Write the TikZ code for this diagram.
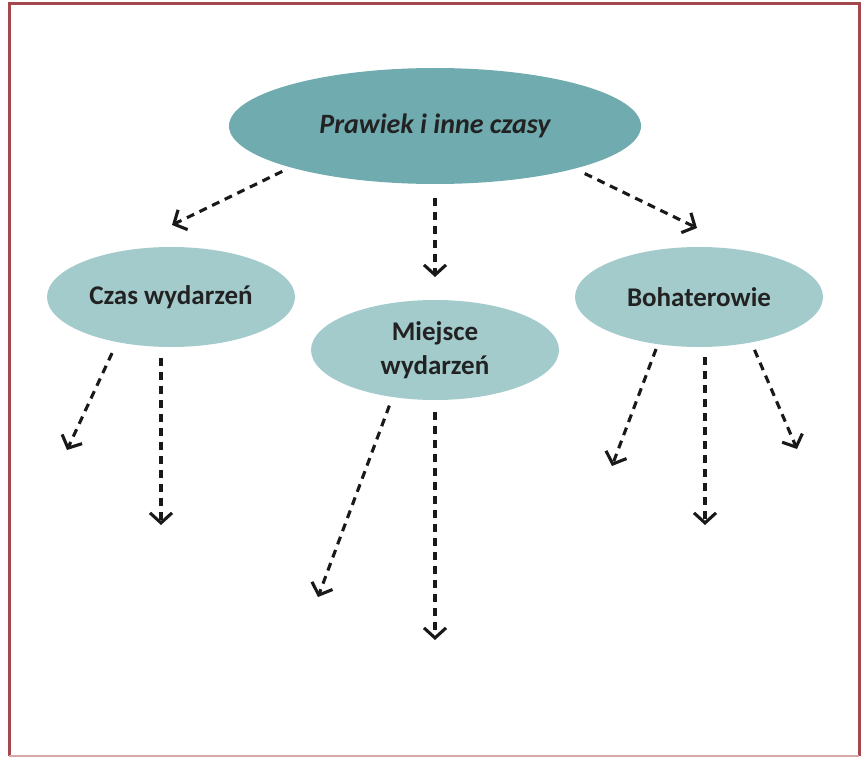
\documentclass[tikz,border=0pt]{standalone}
\usepackage{fontspec}
\setmainfont{Carlito}
\usepackage{xcolor}
\usepackage{tikz}
\usetikzlibrary{shapes.geometric, arrows.meta}
\definecolor{framedark}{HTML}{A4484E}
\definecolor{framelight}{HTML}{D9A7AA}
\definecolor{tealdark}{HTML}{70ACAF}
\definecolor{teallight}{HTML}{A3CBCC}
\definecolor{txt}{HTML}{222222}
\tikzstyle{topic} = [ellipse, minimum width=412pt, minimum height=116pt, inner sep=0pt, fill=tealdark, text=txt, font=\fontsize{28}{32}\selectfont\bfseries\itshape]
\tikzstyle{sub} = [ellipse, minimum width=248pt, minimum height=100pt, inner sep=0pt, fill=teallight, text=txt, align=center, font=\fontsize{27}{34}\selectfont\bfseries]
\tikzstyle{arrow} = [draw=black!90, line width=3.1pt, dash pattern=on 8pt off 6pt, -{Straight Barb[length=10pt,width=22pt]}]

\begin{document}
\begin{tikzpicture}[x=1pt, y=-1pt]

	\useasboundingbox (0,0) rectangle (865,757);
	\draw [framedark, line width=3pt] (9,756) -- (9,4) -- (859,4) -- (859,756);
	\draw [framelight, line width=1.5pt] (9,756) -- (859,756);

	\node (main) [topic] at (435,126) {Prawiek i inne czasy};
	\node (czas) [sub] at (171,297) {Czas wydarzeń};
	\node (miejsce) [sub] at (435,350) {Miejsce\\wydarzeń};
	\node (boh) [sub] at (699,297) {Bohaterowie};

	\coordinate (m1) at (172,225);
	\coordinate (m2) at (435,277);
	\coordinate (m3) at (697,228);

	\draw [arrow, shorten <=9pt] (main.196) -- (m1);
	\draw [arrow, shorten <=14pt] (main.south) -- (m2);
	\draw [arrow, shorten <=11pt] (main.343) -- (m3);

	\coordinate (c1) at (67,450);
	\coordinate (c2) at (161,525);

	\draw [arrow, shorten <=12pt] (czas.220) -- (c1);
	\draw [arrow, shorten <=11pt] (czas.south -| c2) -- (c2);

	\coordinate (w1) at (318,597);
	\coordinate (w2) at (435,640);

	\draw [arrow, shorten <=9pt] (miejsce.228) -- (w1);
	\draw [arrow, shorten <=12pt] (miejsce.south) -- (w2);

	\coordinate (b1) at (612,466);
	\coordinate (b2) at (705,525);
	\coordinate (b3) at (797,449);

	\draw [arrow, shorten <=5pt] (boh.229) -- (b1);
	\draw [arrow, shorten <=10pt] (boh.south -| b2) -- (b2);
	\draw [arrow, shorten <=8pt] (boh.319) -- (b3);

\end{tikzpicture}
\end{document}
